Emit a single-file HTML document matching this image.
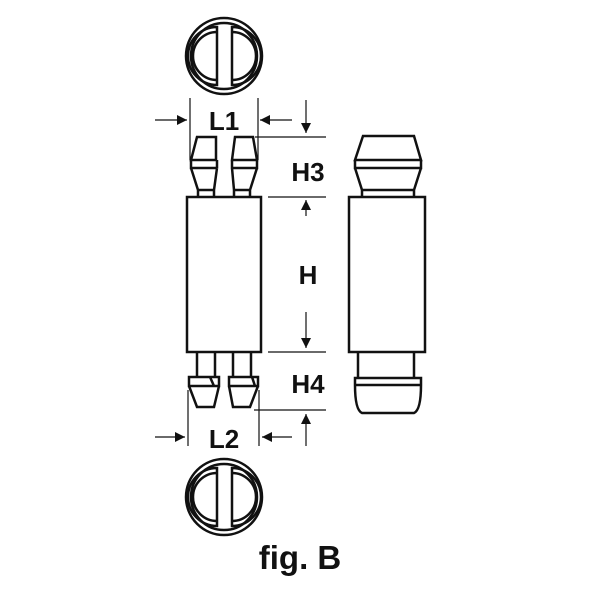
<!DOCTYPE html><html><head><style>body{margin:0;background:#fff}svg{display:block}</style></head><body>
<svg width="600" height="600" viewBox="0 0 600 600" xmlns="http://www.w3.org/2000/svg">
<defs><marker id="a" viewBox="0 0 10 10" refX="10" refY="5" markerWidth="10" markerHeight="10" markerUnits="userSpaceOnUse" orient="auto"><path d="M0,0L10,5L0,10z" fill="#111"/></marker></defs>
<g fill="none" stroke="#111" stroke-width="2.5">
<g transform="translate(224,56)">
<circle r="38"/><circle r="33"/>
<path d="M-7,-29 A29,29 0 0 0 -7,29 Z"/><path d="M-7,-24 A24,24 0 0 0 -7,24"/>
<path d="M8,-29 A29,29 0 0 1 8,29 Z"/><path d="M8,-24 A24,24 0 0 1 8,24"/>
</g>
<g transform="translate(224,497)">
<circle r="38"/><circle r="33"/>
<path d="M-7,-29 A29,29 0 0 0 -7,29 Z"/><path d="M-7,-24 A24,24 0 0 0 -7,24"/>
<path d="M8,-29 A29,29 0 0 1 8,29 Z"/><path d="M8,-24 A24,24 0 0 1 8,24"/>
</g>
<rect x="187" y="197" width="74" height="155"/>
<path d="M197,137H216V160H191z M191,160V168H217 M217,160V168 M191,168L198,190H214L217,168 M198,190V197 M214,190V197"/>
<path d="M235,137H253L257,160H232z M232,160V168H257V160 M232,168L234,190H250L257,168 M234,190V197 M250,190V197"/>
<path d="M197,352V377 M215,352V377 M189,377H219V386H189z M189,386L197,407H214L219,386 M210,377L214,386"/>
<path d="M233,352V377 M251,352V377 M229,377H258V386H229z M229,386L233,407H250L258,386 M252,377L255,386"/>
<rect x="349" y="197" width="76" height="155"/>
<path d="M363,136H414L421,160H355z M355,160V168H421V160 M355,168L362,190H414L421,168 M362,190V197 M414,190V197"/>
<path d="M358,352V378 M414,352V378 M355,378H421V385 Q421,410 414,413 H362 Q355,410 355,385z M355,385H421"/>
</g>
<g stroke="#111" stroke-width="1.2" fill="none">
<path d="M190,98V160 M258,98V160 M255,137H326 M268,197H326 M268,352H326 M254,410H326 M188,390V446 M259,390V446"/>
<path d="M155,120H187" marker-end="url(#a)"/><path d="M292,120H260" marker-end="url(#a)"/>
<path d="M306,100V133" marker-end="url(#a)"/><path d="M306,216V200" marker-end="url(#a)"/>
<path d="M306,312V348" marker-end="url(#a)"/><path d="M306,446V414" marker-end="url(#a)"/>
<path d="M155,437H185" marker-end="url(#a)"/><path d="M292,437H262" marker-end="url(#a)"/>
</g>
<g font-family="Liberation Sans, sans-serif" font-weight="bold" fill="#111" font-size="26">
<text x="224" y="130" text-anchor="middle">L1</text>
<text x="308" y="181" text-anchor="middle">H3</text>
<text x="308" y="284" text-anchor="middle">H</text>
<text x="308" y="393" text-anchor="middle">H4</text>
<text x="224" y="448" text-anchor="middle">L2</text>
<text x="300" y="569" text-anchor="middle" font-size="33">fig. B</text>
</g>
</svg></body></html>
